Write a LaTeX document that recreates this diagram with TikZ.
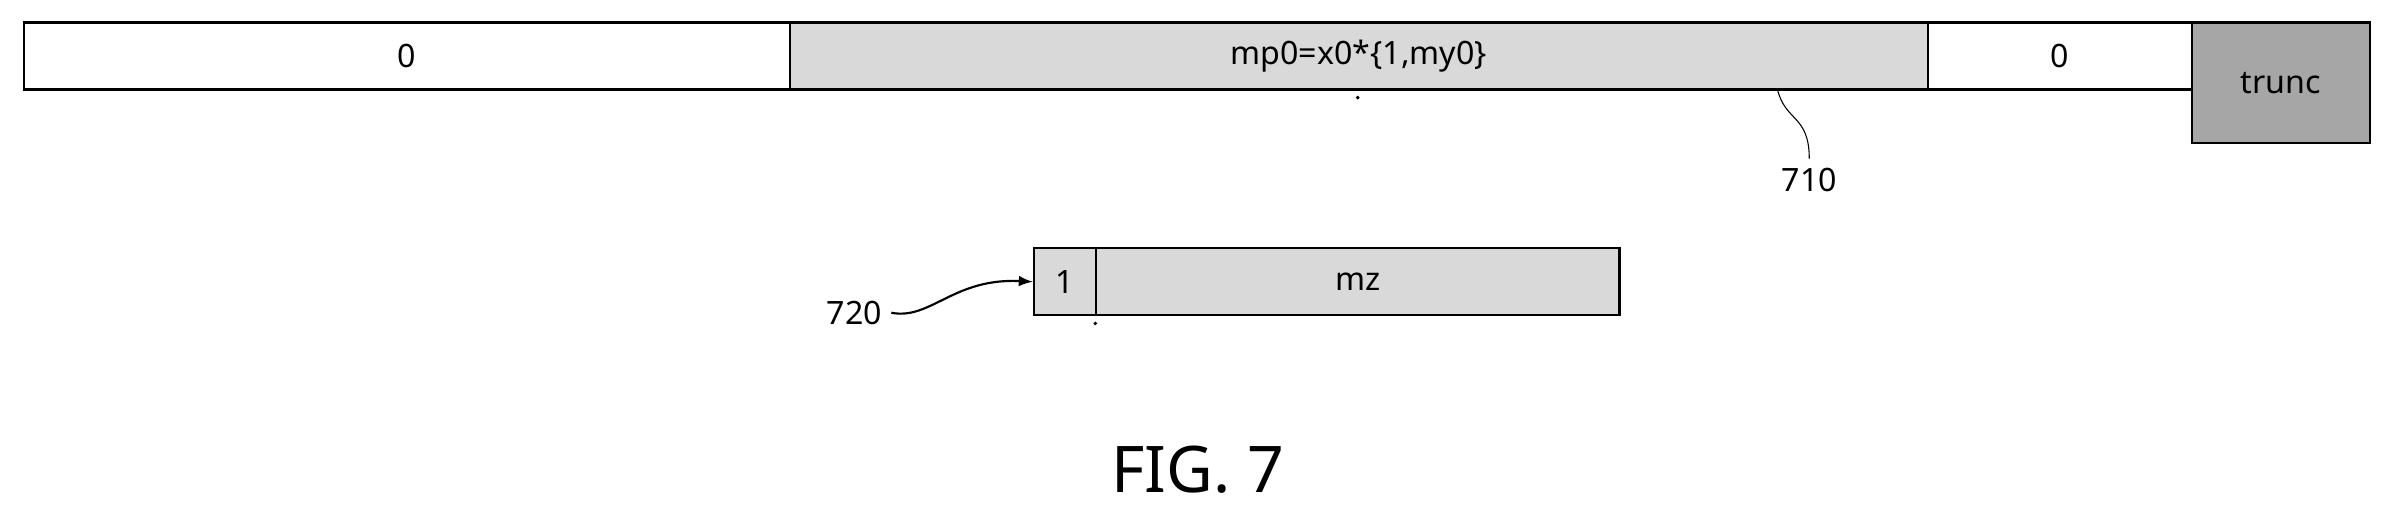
\documentclass[tikz,border=0pt]{standalone}
\usepackage{fontspec}
\setmainfont{Noto Sans}
\usepackage{tikz}
\tikzset{
  field/.style={draw,line width=.8pt,minimum height=0.88cm,inner sep=0pt,anchor=north west},
  shade/.style={fill=black!15},
  dark/.style={fill=black!35},
}
\begin{document}
\begin{tikzpicture}[x=0.02cm,y=-0.02cm,>=latex,font=\fontsize{12}{14}\selectfont]
        \useasboundingbox (0,0) rectangle (1568,338);
        \node[field,minimum width=10.04cm] (z1) at (15,14){0};
        \node[field,shade,minimum width=14.92cm] (mp) at (517,14){mp0=x0*\{1,my0\}};
        \node[field,minimum width=3.46cm] (z2) at (1263,14){0};
        \node[field,dark,minimum width=2.34cm,minimum height=1.58cm] (tr) at (1436,14){trunc};
        \fill (890,64) circle(1.3);
        \node (l710) at (1186,118){710};
        \draw (1165,58) .. controls (1170,80) and (1186,75) .. (l710.north);
        \node[field,shade,minimum width=0.82cm] (one) at (677,162){1};
        \node[field,shade,minimum width=6.86cm] (mz) at (718,162){mz};
        \fill (718,212) circle(1.3);
        \node (l720) at (560,205){720};
        \draw[->,thick] (l720.east) .. controls (610,210) and (625,182) .. (one.west);
        \node[font=\fontsize{24}{28}\selectfont] (fig) at (785,308){FIG. 7};
    \end{tikzpicture}
\end{document}
